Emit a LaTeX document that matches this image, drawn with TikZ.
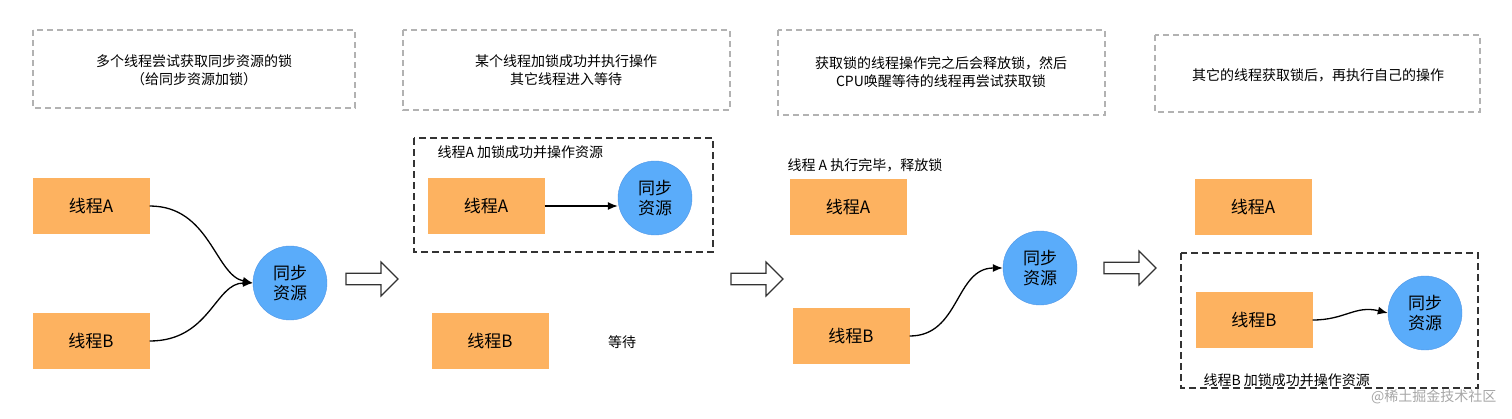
\documentclass[tikz,border=0pt]{standalone}
\usepackage{fontspec}
\setmainfont{Noto Sans CJK SC}
\usetikzlibrary{shapes.arrows,arrows.meta}
\begin{document}
\begin{tikzpicture}[x=1pt,y=-1pt,
 th/.style={draw=none,fill={rgb,255:red,253;green,178;blue,96},minimum width=117pt,minimum height=56pt,font=\fontsize{17}{19}\selectfont},
 res/.style={circle,fill={rgb,255:red,90;green,172;blue,250},draw={rgb,255:red,80;green,150;blue,230},minimum size=74pt,align=center,font=\fontsize{17}{20}\selectfont,inner sep=0pt},
 gbox/.style={draw=gray!60,dashed,line width=1.3pt,dash pattern=on 6pt off 4pt},
 kbox/.style={draw=black!80,line width=1.3pt,dash pattern=on 7pt off 4pt},
 txt/.style={font=\fontsize{14}{18}\selectfont,align=center},
 hol/.style={single arrow,draw=black!80,line width=1.2pt,fill=white,minimum height=52pt,minimum width=34pt,single arrow head extend=5pt,inner sep=2pt},
 con/.style={line width=1.3pt,-{Latex[length=10pt,width=8pt]}}]
\useasboundingbox (0,0) rectangle (1512,418);
% panel 1
\draw[gbox] (33,30) rectangle (355,108);
\node[txt] (t1) at (194,70) {多个线程尝试获取同步资源的锁\\（给同步资源加锁）};
\node[th] (a1) at (91,206) {线程A};
\node[th] (b1) at (91,341) {线程B};
\node[res] (r1) at (290,283) {同步\\资源};
\draw[con] (a1.east) .. controls (210,206) and (215,275) .. (r1.west);
\draw[con] (b1.east) .. controls (210,341) and (215,283) .. (r1.west);
\node[hol] (h1) at (369,279) {};
% panel 2
\draw[gbox] (403,30) rectangle (730,110);
\node[txt] (t2) at (566,70) {某个线程加锁成功并执行操作\\其它线程进入等待};
\draw[kbox] (414,138) rectangle (713,252);
\node[txt,anchor=west] (l2) at (434,152) {线程A 加锁成功并操作资源};
\node[th] (a2) at (486,206) {线程A};
\node[res] (r2) at (655,198) {同步\\资源};
\draw[con] (a2.east) -- (r2.west |- a2.east);
\node[th] (b2) at (490,341) {线程B};
\node[txt] (w2) at (622,342) {等待};
\node[hol] (h2) at (754,279) {};
% panel 3
\draw[gbox] (778,30) rectangle (1105,115);
\node[txt] (t3) at (941,72) {获取锁的线程操作完之后会释放锁，然后\\CPU唤醒等待的线程再尝试获取锁};
\node[txt,anchor=west] (l3) at (784,165) {线程 A 执行完毕，释放锁};
\node[th] (a3) at (848,207) {线程A};
\node[th] (b3) at (851,336) {线程B};
\node[res] (r3) at (1040,268) {同步\\资源};
\draw[con] (b3.east) .. controls (960,336) and (955,268) .. (r3.west);
\node[hol] (h3) at (1127,268) {};
% panel 4
\draw[gbox] (1155,35) rectangle (1480,112);
\node[txt] (t4) at (1318,75) {其它的线程获取锁后，再执行自己的操作};
\node[th] (a4) at (1253,207) {线程A};
\draw[kbox] (1181,253) rectangle (1478,388);
\node[th] (b4) at (1254,320) {线程B};
\node[res] (r4) at (1425,313) {同步\\资源};
\draw[con] (b4.east) .. controls (1345,320) and (1355,305) .. (r4.west);
\node[txt,anchor=west] (l4) at (1200,380) {线程B 加锁成功并操作资源};
\node[txt,text=gray!70,anchor=east] (wm) at (1500,397) {@稀土掘金技术社区};
\end{tikzpicture}
\end{document}
